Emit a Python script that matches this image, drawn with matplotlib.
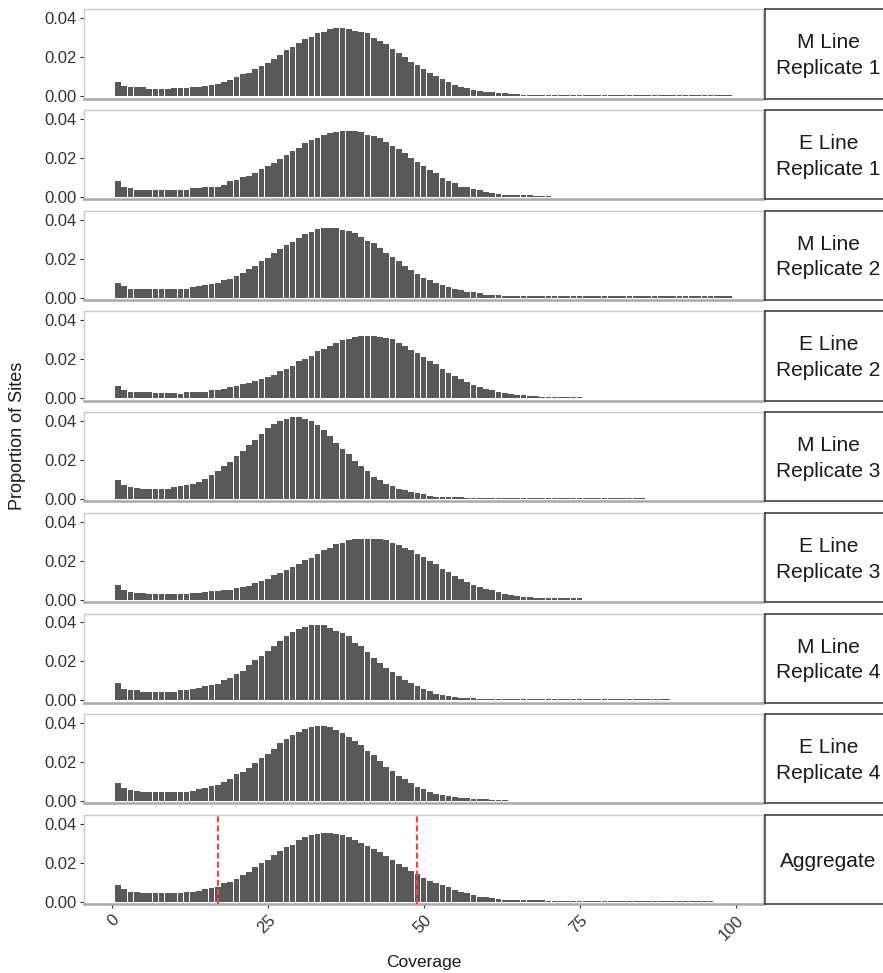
import numpy as np
import matplotlib
matplotlib.use("Agg")
import matplotlib.pyplot as plt

plt.rcParams['font.family'] = ['Liberation Sans', 'DejaVu Sans']

# ---- data: proportion of sites per coverage value, in units of 1e-3 ----
panel_labels = ["M Line\nReplicate 1", "E Line\nReplicate 1", "M Line\nReplicate 2",
                "E Line\nReplicate 2", "M Line\nReplicate 3", "E Line\nReplicate 3",
                "M Line\nReplicate 4", "E Line\nReplicate 4", "Aggregate"]

m_rep1 = [7.4, 5.1, 4.5, 4.5, 4.5, 3.8, 3.8, 3.8, 3.8, 4.2,
          4.2, 4.2, 4.5, 4.8, 5.1, 5.5, 6.5, 7.5, 8.2, 9.6,
          11.3, 12.0, 14.1, 15.4, 16.8, 19.2, 21.3, 23.5, 25.0, 27.1,
          29.3, 30.5, 32.2, 33.1, 34.3, 34.8, 35.2, 34.5, 33.6, 32.8,
          32.2, 30.0, 28.5, 26.6, 24.2, 22.0, 19.9, 17.7, 16.0, 13.9,
          11.7, 10.3, 8.7, 7.4, 5.7, 4.8, 4.3, 3.4, 2.7, 2.2,
          2.1, 1.4, 1.4, 1.0, 0.9, 0.8, 0.7, 0.7, 0.6, 0.6,
          0.6, 0.6, 0.6, 0.6, 0.6, 0.6, 0.6, 0.6, 0.6, 0.6,
          0.6, 0.6, 0.6, 0.6, 0.6, 0.6, 0.6, 0.6, 0.6, 0.6,
          0.6, 0.6, 0.6, 0.6, 0.6, 0.6, 0.6, 0.6, 0.6]

e_rep1 = [7.9, 5.1, 4.3, 3.6, 3.6, 3.6, 3.6, 3.6, 3.6, 3.6,
          3.6, 3.6, 4.3, 4.3, 5.0, 5.0, 5.0, 6.2, 7.9, 8.7,
          10.1, 10.9, 12.1, 14.4, 15.9, 17.3, 19.5, 21.5, 23.6, 25.3,
          27.5, 29.2, 30.3, 31.8, 32.6, 33.3, 33.6, 33.6, 33.6, 33.3,
          31.8, 31.3, 30.1, 28.0, 26.2, 24.4, 22.4, 20.2, 18.1, 15.9,
          13.8, 12.1, 9.9, 8.4, 7.0, 5.3, 5.0, 3.9, 3.6, 2.6,
          1.9, 1.4, 1.2, 1.0, 0.8, 0.7, 0.7, 0.6, 0.6, 0.6]

m_rep2 = [7.4, 6.0, 4.6, 4.4, 4.4, 4.4, 4.4, 4.4, 4.4, 4.4,
          4.4, 4.4, 5.3, 6.0, 6.2, 6.8, 7.4, 8.9, 9.6, 11.3,
          12.5, 14.7, 16.2, 18.6, 20.5, 22.7, 25.0, 27.0, 28.7, 30.6,
          32.6, 33.8, 35.2, 35.7, 35.7, 35.6, 34.7, 34.2, 33.0, 31.3,
          29.2, 27.9, 25.5, 22.7, 20.7, 18.6, 16.2, 14.2, 12.0, 10.3,
          9.1, 7.4, 6.2, 5.3, 4.4, 3.9, 3.1, 2.7, 2.2, 1.5,
          1.5, 1.5, 0.9, 0.8, 0.8, 0.7, 0.7, 0.7, 0.6, 0.6,
          0.6, 0.6, 0.6, 0.6, 0.6, 0.6, 0.6, 0.6, 0.6, 0.6,
          0.6, 0.6, 0.6, 0.6, 0.6, 0.6, 0.6, 0.6, 0.6, 0.6,
          0.6, 0.6, 0.6, 0.6, 0.6, 0.6, 0.6, 0.6, 0.6]

e_rep2 = [6.3, 4.1, 3.4, 3.4, 3.4, 3.4, 2.7, 2.7, 2.7, 2.7,
          2.4, 3.4, 3.4, 3.4, 3.4, 4.1, 4.1, 4.8, 5.8, 6.5,
          7.2, 7.9, 8.9, 10.1, 10.9, 12.1, 13.8, 15.2, 16.4, 19.0,
          20.3, 21.7, 24.1, 25.5, 26.8, 28.4, 29.7, 30.6, 31.3, 31.8,
          31.8, 31.8, 31.5, 30.9, 30.3, 28.4, 26.7, 24.6, 23.2, 21.2,
          19.0, 17.4, 15.0, 13.0, 11.5, 10.1, 8.4, 7.0, 5.8, 5.0,
          4.1, 3.4, 2.7, 2.1, 1.7, 1.7, 1.2, 1.2, 0.8, 0.7,
          0.7, 0.6, 0.6, 0.6, 0.6]

m_rep3 = [9.6, 7.2, 6.0, 5.6, 5.0, 5.0, 5.0, 5.0, 5.0, 6.0,
          6.5, 7.2, 7.9, 8.7, 10.1, 12.1, 14.5, 16.8, 19.0, 21.9,
          24.8, 27.7, 30.4, 33.5, 36.4, 38.5, 39.8, 41.0, 42.2, 42.2,
          41.2, 40.2, 38.1, 35.2, 32.1, 28.7, 25.8, 23.1, 19.7, 17.1,
          14.5, 11.5, 9.9, 7.9, 6.5, 5.0, 4.4, 3.8, 3.1, 2.4,
          1.7, 1.2, 1.2, 1.0, 0.8, 0.8, 0.7, 0.7, 0.7, 0.6,
          0.6, 0.6, 0.6, 0.6, 0.6, 0.6, 0.6, 0.6, 0.6, 0.6,
          0.6, 0.6, 0.6, 0.6, 0.6, 0.6, 0.6, 0.6, 0.6, 0.6,
          0.6, 0.6, 0.6, 0.6, 0.6]

e_rep3 = [7.4, 5.1, 3.8, 3.4, 3.4, 2.7, 2.7, 2.7, 2.7, 2.7,
          2.7, 2.7, 3.4, 3.4, 3.9, 4.3, 4.3, 5.1, 5.1, 6.0,
          6.5, 7.2, 8.5, 9.4, 10.8, 12.5, 13.7, 15.0, 16.8, 18.1,
          20.2, 21.5, 23.2, 25.3, 26.7, 28.4, 29.1, 30.4, 31.3, 31.3,
          31.3, 31.3, 31.3, 30.4, 29.2, 28.2, 26.7, 25.3, 23.2, 21.9,
          19.8, 18.1, 15.9, 14.2, 12.1, 10.8, 9.1, 7.4, 6.5, 5.6,
          4.8, 3.8, 2.7, 2.6, 1.9, 1.4, 1.4, 1.0, 0.8, 0.7,
          0.7, 0.6, 0.6, 0.6, 0.6]

m_rep4 = [8.7, 5.8, 5.1, 5.1, 4.4, 4.4, 4.4, 4.4, 4.4, 4.4,
          5.1, 5.1, 5.6, 6.5, 7.5, 8.0, 8.5, 10.3, 11.6, 13.7,
          14.9, 18.3, 20.5, 22.6, 25.5, 27.7, 30.4, 32.8, 35.0, 36.6,
          37.9, 38.8, 38.8, 38.5, 37.1, 35.7, 34.5, 32.8, 29.7, 27.7,
          24.8, 21.7, 19.1, 16.6, 14.5, 12.6, 10.3, 8.9, 7.2, 5.8,
          4.6, 3.2, 2.7, 2.2, 1.7, 1.4, 1.4, 1.0, 0.9, 0.8,
          0.8, 0.7, 0.7, 0.7, 0.6, 0.6, 0.6, 0.6, 0.6, 0.6,
          0.6, 0.6, 0.6, 0.6, 0.6, 0.6, 0.6, 0.6, 0.6, 0.6,
          0.6, 0.6, 0.6, 0.6, 0.6, 0.6, 0.6, 0.6, 0.6]

e_rep4 = [9.1, 6.8, 5.5, 5.1, 4.6, 4.6, 4.6, 4.6, 4.6, 4.6,
          4.6, 4.6, 5.3, 6.2, 6.8, 7.5, 8.2, 9.9, 11.3, 13.7,
          15.0, 17.1, 19.3, 22.2, 24.4, 26.7, 29.6, 31.8, 33.8, 35.6,
          36.9, 38.1, 38.3, 38.3, 37.8, 36.4, 34.7, 33.0, 30.8, 28.7,
          25.6, 23.6, 20.5, 17.6, 15.4, 13.0, 11.1, 9.4, 7.4, 6.0,
          4.8, 3.6, 3.1, 2.4, 2.1, 1.7, 1.4, 1.0, 1.0, 0.9,
          0.8, 0.8, 0.8]

aggregate = [8.5, 6.5, 5.0, 5.0, 4.5, 4.3, 4.3, 4.3, 4.3, 4.3,
             4.5, 4.8, 5.0, 5.6, 6.4, 7.1, 7.6, 9.4, 10.3, 11.7,
             13.8, 15.5, 18.0, 19.7, 21.5, 23.8, 25.9, 28.0, 29.4, 31.9,
             33.2, 34.2, 34.9, 35.3, 35.3, 35.0, 34.3, 33.0, 31.8, 30.1,
             28.7, 27.3, 25.3, 23.3, 21.6, 19.5, 17.7, 15.7, 14.0, 12.3,
             10.8, 9.5, 8.4, 7.4, 6.2, 5.0, 4.3, 3.4, 2.5, 2.2,
             2.0, 1.3, 1.1, 1.0, 0.9, 0.8, 0.7, 0.7, 0.7, 0.6,
             0.6, 0.6, 0.6, 0.6, 0.6, 0.6, 0.6, 0.6, 0.6, 0.6,
             0.6, 0.6, 0.6, 0.6, 0.6, 0.6, 0.6, 0.6, 0.6, 0.6,
             0.6, 0.6, 0.6, 0.6, 0.6, 0.6]

cutoffs = [17, 49]               # dashed red lines in the Aggregate panel
x_ticks = [0, 25, 50, 75, 100]
y_ticks = [0.00, 0.02, 0.04]

series = [m_rep1, e_rep1, m_rep2, e_rep2, m_rep3, e_rep3, m_rep4, e_rep4, aggregate]
assert [len(s) for s in series] == [99, 70, 99, 75, 85, 75, 89, 63, 96]

# ---- layout (pixel based) ----
W, H = 883, 973
fig = plt.figure(figsize=(W / 100, H / 100), dpi=100)
fig.patch.set_facecolor("white")

left_px, right_px = 84.0, 763.3
top0, pitch, ph = 9.3, 100.7, 89.2
strip_l, strip_r = 764.8, 892.0

BAR = "#595959"
TXT = "#333333"

for i, (vals, lab) in enumerate(zip(series, panel_labels)):
    top = top0 + pitch * i
    ax = fig.add_axes([left_px / W, 1 - (top + ph) / H,
                       (right_px - left_px) / W, ph / H])
    cov = np.arange(1, len(vals) + 1)
    prop = np.array(vals) / 1000.0
    ax.bar(cov, prop, width=0.91, color=BAR, edgecolor="none", linewidth=0)
    ax.set_xlim(-4.45, 104.45)
    ax.set_ylim(-0.0012, 0.0446)
    ax.set_yticks(y_ticks)
    ax.set_yticklabels([f"{t:.2f}" for t in y_ticks])
    ax.tick_params(axis="y", length=3, width=0.8, color=TXT, labelcolor=TXT,
                   labelsize=12, pad=2)
    for s in ["top", "left", "right"]:
        ax.spines[s].set_color("#cccccc")
        ax.spines[s].set_linewidth(1.0)
    ax.spines["bottom"].set_color("#a9a9a9")
    ax.spines["bottom"].set_linewidth(1.8)
    if i == len(series) - 1:
        ax.set_xticks(x_ticks)
        ax.set_xticklabels([str(t) for t in x_ticks], rotation=45,
                           ha="right", va="top", rotation_mode="anchor")
        ax.tick_params(axis="x", length=3, width=0.8, color=TXT, labelcolor=TXT,
                       labelsize=12, pad=3)
        for c in cutoffs:
            ax.axvline(c, color="#ff4040", linewidth=1.5, linestyle=(0, (2.9, 1.45)),
                       zorder=3)
    else:
        ax.set_xticks([])

    # facet strip on the right
    sax = fig.add_axes([strip_l / W, 1 - (top + ph) / H,
                        (strip_r - strip_l) / W, ph / H])
    sax.set_xticks([])
    sax.set_yticks([])
    sax.set_facecolor("white")
    for s in sax.spines.values():
        s.set_color("#333333")
        s.set_linewidth(1.1)
    sax.text(0.5, 0.48, lab, ha="center", va="center", fontsize=15,
             color="#1a1a1a", linespacing=1.45, transform=sax.transAxes)

fig.text(18 / W, 1 - 436 / H, "Proportion of Sites", rotation=90,
         ha="center", va="center", fontsize=13, color="#1a1a1a")
fig.text(424 / W, 1 - 962 / H, "Coverage", ha="center", va="center",
         fontsize=12.5, color="#1a1a1a")

fig.savefig("out.png", dpi=100, facecolor="white")
